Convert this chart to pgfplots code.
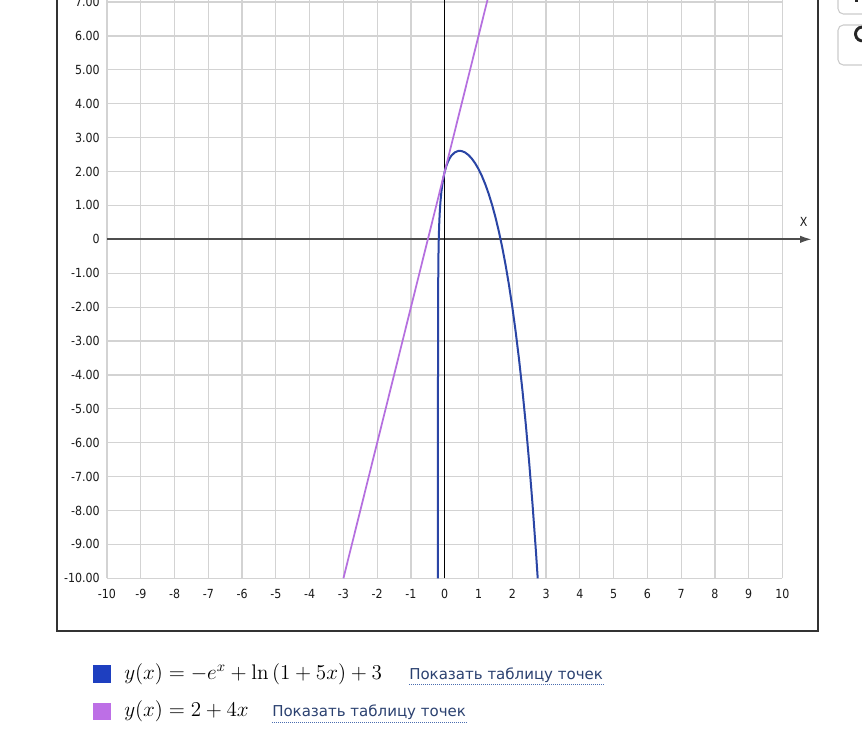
\documentclass[border=0pt]{standalone}
\usepackage{fontspec}
\usepackage{pgfplots}
\pgfplotsset{compat=1.18}
\usetikzlibrary{arrows.meta}
\newfontfamily\tickfont[FakeStretch=0.88]{DejaVu Sans}
\newfontfamily\linkfont{DejaVu Sans}
\definecolor{gridc}{HTML}{D3D3D3}
\definecolor{tickc}{HTML}{1A1A1A}
\definecolor{axc}{HTML}{4D4D4D}
\definecolor{framec}{HTML}{333333}
\definecolor{bluec}{HTML}{2A45A5}
\definecolor{purplec}{HTML}{B56FDF}
\definecolor{bluesq}{HTML}{1E3FC0}
\definecolor{purplesq}{HTML}{BD6FE6}
\definecolor{linkc}{HTML}{2B4170}
\definecolor{ulc}{HTML}{4A6DB0}
\definecolor{btnc}{HTML}{CCCCCC}
\begin{document}
\begin{tikzpicture}
\path[use as bounding box] (0,0) rectangle (646.5pt,-562.5pt);
\clip (0,0) rectangle (646.5pt,-562.5pt);
\fill[white] (0,0) rectangle (646.5pt,-562.5pt);
\begin{scope}[x=0.75pt,y=-0.75pt]
\draw[framec, line width=1.3pt] (57,-20) rectangle (818,631);
\draw[btnc, line width=0.8pt, rounded corners=4pt, fill=white] (838,-30) rectangle (885,14);
\draw[btnc, line width=0.8pt, rounded corners=4pt, fill=white] (838,25) rectangle (885,65);
\fill[black!85] (855,-2) rectangle (858,1.5);
\draw[black!85, line width=2.2pt] (866,40) arc[start angle=60, end angle=300, radius=7];
\end{scope}
\begin{axis}[
 at={(80.25pt,-433.725pt)}, anchor=south west,
 scale only axis, width=506.6pt, height=433.725pt,
 xmin=-10, xmax=10, ymin=-10, ymax=7.06,
 axis line style={draw=none},
 major tick length=0pt,
 tick style={draw=none},
 xtick={-10,-9,...,10},
 xticklabels={-10,-9,-8,-7,-6,-5,-4,-3,-2,-1,0,1,2,3,4,5,6,7,8,9,10},
 ytick={-10,-9,...,7},
 yticklabels={-10.00,-9.00,-8.00,-7.00,-6.00,-5.00,-4.00,-3.00,-2.00,-1.00,0,1.00,2.00,3.00,4.00,5.00,6.00,7.00},
 grid=major,
 grid style={draw=gridc, line width=0.9pt},
 xticklabel style={font=\tickfont\fontsize{9.4}{11}\selectfont, text=tickc, anchor=north, inner sep=0pt, yshift=-8.25pt},
 yticklabel style={font=\tickfont\fontsize{9.4}{11}\selectfont, text=tickc, anchor=east, inner sep=0pt, xshift=-5.25pt},
 clip=false,
]
\draw[axc, line width=1.5pt, -{Latex[length=9pt,width=5.5pt]}] (axis cs:-10,0) -- (axis cs:10.88,0);
\draw[black, line width=1.1pt] (axis cs:0,-10) -- (axis cs:0,7.6);
\node[font=\tickfont\fontsize{9.4}{11}\selectfont, text=tickc] at (axis cs:10.63,0.52) {X};
\addplot[bluec, line width=1.5pt, line join=round] coordinates {
(-0.2,-10) (-0.19999,-7.72) (-0.1999,-5.42) (-0.1998,-4.727) (-0.1995,-3.810)
(-0.199,-3.118) (-0.198,-2.426) (-0.195,-1.512) (-0.19,-0.823) (-0.185,-0.421)
(-0.18,-0.138) (-0.17,0.259) (-0.16,0.539) (-0.15,0.753) (-0.13,1.072)
(-0.1,1.402) (-0.05,1.761) (0,2.0) (0.05,2.172) (0.1,2.300) (0.15,2.398)
(0.2,2.472) (0.3,2.566) (0.4,2.607) (0.45,2.610) (0.5,2.604) (0.6,2.564)
(0.7,2.490) (0.8,2.384) (0.9,2.245) (1.0,2.074) (1.1,1.868) (1.2,1.626)
(1.3,1.346) (1.4,1.024) (1.5,0.658) (1.6,0.244) (1.7,-0.223) (1.8,-0.747)
(1.9,-1.335) (2.0,-1.991) (2.1,-2.724) (2.2,-3.540) (2.3,-4.449) (2.4,-5.458)
(2.5,-6.580) (2.6,-7.825) (2.7,-9.206) (2.753,-10)
};
\addplot[purplec, line width=1.3pt] coordinates {(-3,-10) (1.265,7.06)};
\end{axis}
\begin{scope}[x=0.75pt,y=-0.75pt]
\fill[bluesq] (93,665) rectangle (111,683);
\fill[purplesq] (93,703) rectangle (111,720);
\node[anchor=base west, inner sep=0pt, scale=1.10] at (124,679) {\Large $y(x) = -e^{x} + \ln\left(1+5x\right) + 3$};
\node[anchor=base west, inner sep=0pt, scale=1.10] at (124,716.7) {\Large $y(x) = 2+4x$};
\node[anchor=base west, inner sep=0pt, text=linkc] (l1) at (409,679) {\linkfont\fontsize{11.25}{14}\selectfont Показать таблицу точек};
\node[anchor=base west, inner sep=0pt, text=linkc] (l2) at (272,716.7) {\linkfont\fontsize{11.25}{14}\selectfont Показать таблицу точек};
\draw[ulc, line width=0.75pt, dash pattern=on 0.75pt off 0.75pt] ([yshift=-4pt]l1.base west) -- ([yshift=-4pt]l1.base east);
\draw[ulc, line width=0.75pt, dash pattern=on 0.75pt off 0.75pt] ([yshift=-4pt]l2.base west) -- ([yshift=-4pt]l2.base east);
\end{scope}
\end{tikzpicture}
\end{document}
